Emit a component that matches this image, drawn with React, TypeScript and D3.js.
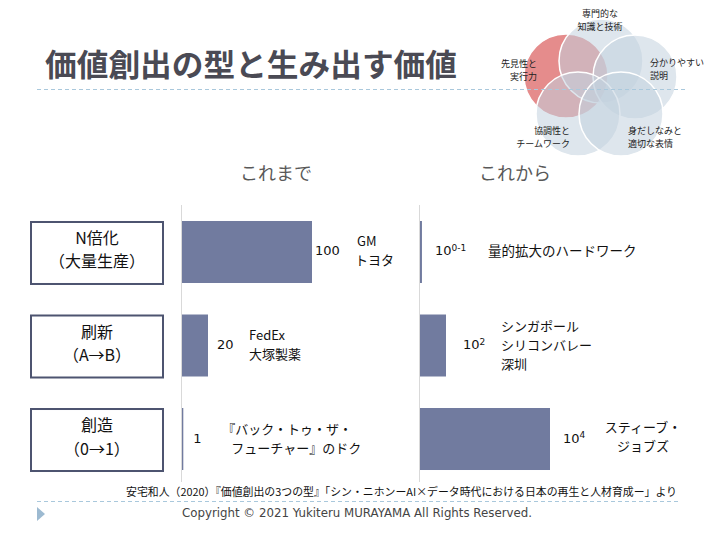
import React from "react";
import * as d3 from "d3";

// ---- data ----
const categories = ["N倍化", "刷新", "創造"];
const categorySub = ["（大量生産）", "（A→B）", "（0→1）"];
const leftValues = [100, 20, 1];
const leftValueLabels = ["100", "20", "1"];
const leftExamples = [["GM", "トヨタ"], ["FedEx", "大塚製薬"], ["『バック・トゥ・ザ・", "フューチャー』のドク"]];
const rightValues = [1.5, 20, 100];
const rightBase = ["10", "10", "10"];
const rightExponent = ["0-1", "2", "4"];
const rightExamples = [["量的拡大のハードワーク"], ["シンガポール", "シリコンバレー", "深圳"], ["スティーブ・", "ジョブズ"]];
const panelTitles = ["これまで", "これから"];
const vennSkills = ["先見性と\n実行力", "専門的な\n知識と技術", "分かりやすい\n説明", "協調性と\nチームワーク", "身だしなみと\n適切な表情"];

const titleText = "価値創出の型と生み出す価値";
const sourceText = "安宅和人（2020）『価値創出の3つの型』「シン・ニホンーAI×データ時代における日本の再生と人材育成ー」より";
const copyrightText = "Copyright © 2021 Yukiteru MURAYAMA All Rights Reserved.";

// ---- layout (styles/positions only) ----
const JP = "'Noto Sans CJK JP', 'Noto Sans', sans-serif";
const NUM = "'DejaVu Sans', 'Noto Sans', sans-serif";
const BAR = "#717b9f";
const BOX = "#4d5470";
const GRID = "#d9d9d9";
const DASH = "#a9c8dc";

const leftValueGap = [3, 9, 10];
const leftExampleGap = [42, 32, 29];
const leftExampleIndent = [[0, -2], [0, 0], [0, 9]];
const rightValueGap = [13, 17, 13];
const rightExampleGap = [53, 38, 37];
const rightExampleAnchor = ["start", "start", "middle"];
const vennOffsets = [[-34, -12], [1, -27], [35, -11], [-22, 26], [21, 26]];
const vennLabelPos: [number, number, string][] = [
  [537, 64.5, "end"], [600, 14.5, "middle"], [650, 63.5, "start"], [570, 131.5, "end"], [628, 131.5, "start"],
];
const LINE = 19;
const VLINE = 13;

export default function App() {
  const band = d3.scaleBand<string>().domain(categories).range([205.1, 485.9]).paddingInner(0.337).paddingOuter(0.17);
  const xLeft = d3.scaleLinear().domain([0, 100]).range([182, 312]);
  const xRight = d3.scaleLinear().domain([0, 100]).range([420, 550]);
  const bw = band.bandwidth();
  const vennCenter = [600, 88];
  const vennR = 42;

  return (
    <svg width={720} height={540} style={{ position: "absolute", left: 0, top: 0, background: "#fff" }}>
      {/* Venn decoration */}
      <g>
        {vennOffsets.map((o, i) => (
          <circle key={i} cx={vennCenter[0] + o[0]} cy={vennCenter[1] + o[1]} r={vennR}
            fill={i === 0 ? "#e27f80" : "#c3d1df"} fillOpacity={i === 0 ? 0.9 : 0.55}
            stroke="#ffffff" strokeWidth={1.5} />
        ))}
        {vennSkills.map((s, i) => {
          const [x, y, anchor] = vennLabelPos[i];
          return (
            <text key={i} x={x} y={y} textAnchor={anchor as any} fontFamily={JP} fontSize={9} fill="#222" dominantBaseline="middle">
              {s.split("\n").map((l, j) => (
                <tspan key={j} x={x} dy={j === 0 ? 0 : VLINE}>{l}</tspan>
              ))}
            </text>
          );
        })}
      </g>

      {/* title */}
      <text x={45} y={68} fontFamily={JP} fontWeight={700} fontSize={31} fill="#4a4a54" dominantBaseline="middle"
        textLength={412} lengthAdjust="spacingAndGlyphs">{titleText}</text>
      <line x1={37} x2={685} y1={89.5} y2={89.5} stroke={DASH} strokeDasharray="4 3" />

      {/* panel titles */}
      {panelTitles.map((t, i) => (
        <text key={t} x={i === 0 ? 276 : 515} y={175} textAnchor="middle" dominantBaseline="middle"
          fontFamily={JP} fontSize={18} fill="#595959">{t}</text>
      ))}

      {/* gridlines */}
      <line x1={xLeft(0) - 0.5} x2={xLeft(0) - 0.5} y1={205} y2={482} stroke={GRID} />
      <line x1={xRight(0) - 0.5} x2={xRight(0) - 0.5} y1={205} y2={482} stroke={GRID} />

      {categories.map((c, i) => {
        const y = band(c)!;
        const cy = y + bw / 2;
        const lx = xLeft(leftValues[i]) + leftValueGap[i];
        const rx = xRight(rightValues[i]) + rightValueGap[i];
        const rex = rx + rightExampleGap[i];
        const rLines = rightExamples[i];
        const lLines = leftExamples[i];
        const rAnchorX = rightExampleAnchor[i] === "middle" ? rex + 43 : rex;
        return (
          <g key={c}>
            {/* category box */}
            <rect x={31} y={y + 1} width={132} height={bw} fill="#fff" stroke={BOX} strokeWidth={2} />
            <text x={97} y={cy - 12} textAnchor="middle" dominantBaseline="middle" fontFamily={JP} fontSize={16} fill="#111">
              <tspan x={97}>{c}</tspan>
              <tspan x={97} dy={23.5}>{categorySub[i]}</tspan>
            </text>

            {/* bars */}
            <rect x={xLeft(0)} y={y} width={xLeft(leftValues[i]) - xLeft(0)} height={bw} fill={BAR} />
            <rect x={xRight(0)} y={y} width={xRight(rightValues[i]) - xRight(0)} height={bw} fill={BAR} />

            {/* left labels */}
            <text x={lx} y={cy} dominantBaseline="middle" fontFamily={NUM} fontSize={13} fill="#111">{leftValueLabels[i]}</text>
            <text x={lx + leftExampleGap[i]} y={cy - ((lLines.length - 1) / 2) * LINE}
              dominantBaseline="middle" fontFamily={JP} fontSize={13} fill="#111">
              {lLines.map((l, j) => (
                <tspan key={j} x={lx + leftExampleGap[i] + leftExampleIndent[i][j]} dy={j === 0 ? 0 : LINE}>{l}</tspan>
              ))}
            </text>

            {/* right labels */}
            <text x={rx} y={cy} dominantBaseline="middle" fontFamily={NUM} fontSize={13} fill="#111">
              {rightBase[i]}
              <tspan fontSize={9} dy={-4}>{rightExponent[i]}</tspan>
            </text>
            <text x={rAnchorX} y={cy - ((rLines.length - 1) / 2) * LINE - (i === 2 ? 2 : 0)}
              textAnchor={rightExampleAnchor[i] as any}
              dominantBaseline="middle" fontFamily={JP} fontSize={rLines.length > 1 ? 13 : 13.5} fill="#111">
              {rLines.map((l, j) => (
                <tspan key={j} x={rAnchorX} dy={j === 0 ? 0 : LINE}>{l}</tspan>
              ))}
            </text>
          </g>
        );
      })}

      {/* source */}
      <text x={126} y={493} dominantBaseline="middle" fontFamily={JP} fontSize={11} fill="#111"
        textLength={551} lengthAdjust="spacingAndGlyphs">{sourceText}</text>
      <line x1={37} x2={680} y1={501.5} y2={501.5} stroke={DASH} strokeDasharray="4 3" />
      <path d="M37,507 L45,514 L37,521 Z" fill="#9dbad1" />
      <text x={182} y={513} dominantBaseline="middle" fontFamily={NUM} fontSize={12} fill="#444"
        textLength={350} lengthAdjust="spacingAndGlyphs">{copyrightText}</text>
    </svg>
  );
}
